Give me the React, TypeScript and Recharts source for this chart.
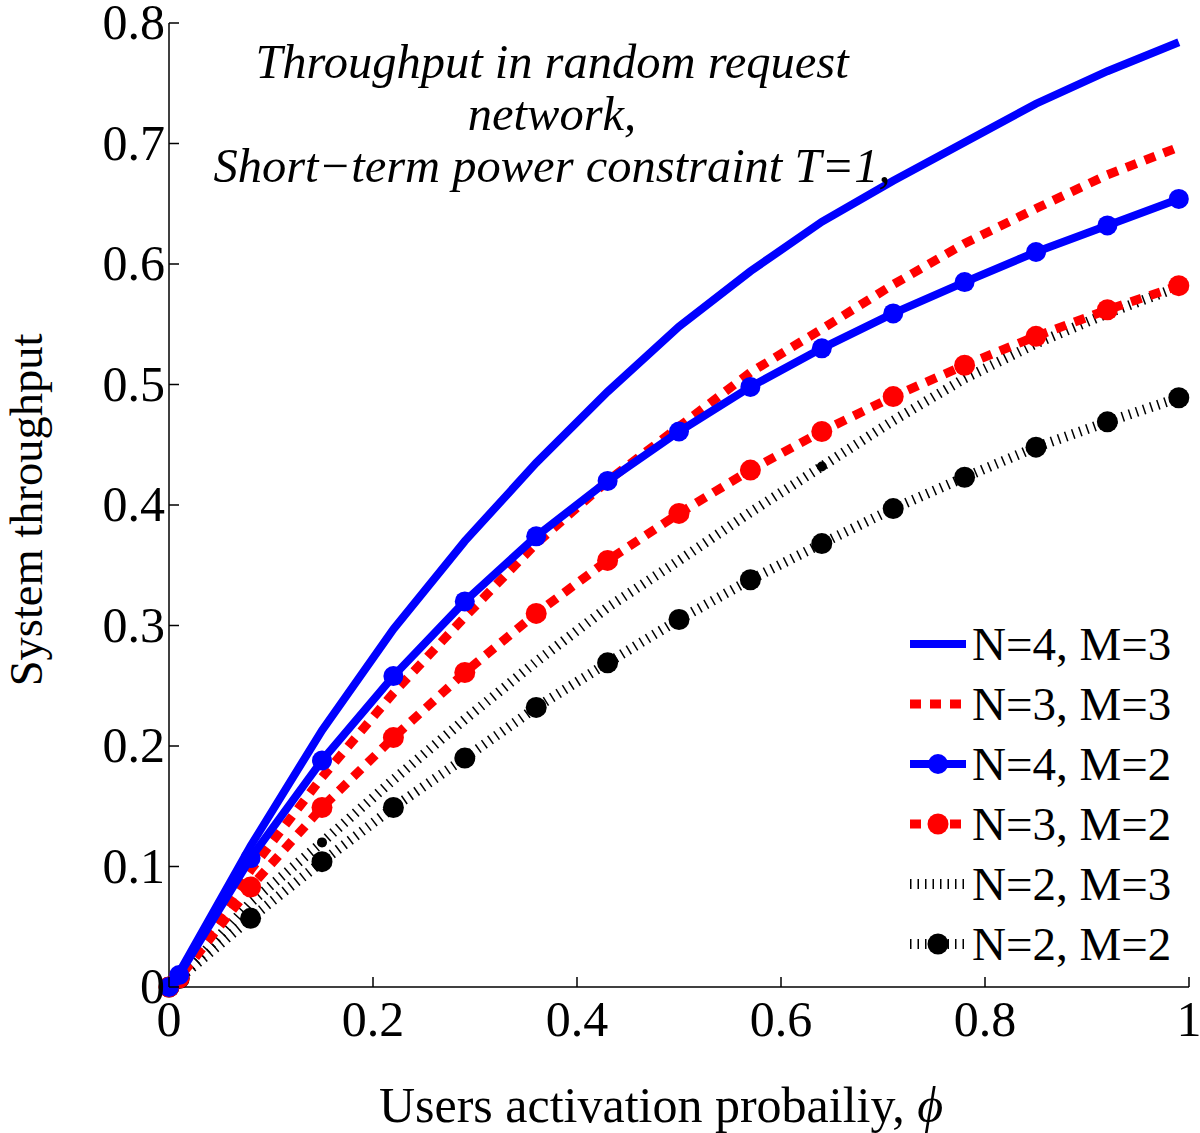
import { LineChart, Line, XAxis, YAxis, Legend } from "recharts";

// activation probability (x) and system throughput for each (N, M) setting
const phi = [0, 0.01, 0.08, 0.15, 0.22, 0.29, 0.36, 0.43, 0.5, 0.57, 0.64, 0.71, 0.78, 0.85, 0.92, 0.99];
const n4m3 = [0, 0.012, 0.117, 0.213, 0.297, 0.37, 0.435, 0.494, 0.548, 0.594, 0.635, 0.669, 0.701, 0.733, 0.76, 0.784];
const n3m3 = [0, 0.009, 0.097, 0.174, 0.244, 0.307, 0.368, 0.42, 0.465, 0.51, 0.546, 0.583, 0.617, 0.646, 0.674, 0.697];
const n4m2 = [0, 0.01, 0.107, 0.188, 0.258, 0.32, 0.374, 0.42, 0.461, 0.498, 0.53, 0.559, 0.585, 0.61, 0.632, 0.654];
const n3m2 = [0, 0.0075, 0.083, 0.149, 0.207, 0.261, 0.31, 0.354, 0.393, 0.429, 0.461, 0.49, 0.516, 0.54, 0.562, 0.582];
const n2m3 = [0, 0.007, 0.07, 0.12, 0.172, 0.222, 0.27, 0.315, 0.354, 0.394, 0.432, 0.47, 0.505, 0.534, 0.559, 0.581];
const n2m2 = [0, 0.007, 0.057, 0.104, 0.149, 0.19, 0.232, 0.269, 0.305, 0.338, 0.368, 0.397, 0.423, 0.448, 0.469, 0.489];
// points of the N=2, M=3 curve that carry a small stray marker
const n2m3Marked = [3, 10];

const xTicks = [0, 0.2, 0.4, 0.6, 0.8, 1];
const yTicks = [0, 0.1, 0.2, 0.3, 0.4, 0.5, 0.6, 0.7, 0.8];

const titleLines = ["Throughput in random request", "network,", "Short\u2212term power constraint T=1,"];

const data = phi.map((p, i) => ({
  phi: p,
  n4m3: n4m3[i],
  n3m3: n3m3[i],
  n4m2: n4m2[i],
  n3m2: n3m2[i],
  n2m3: n2m3[i],
  n2m2: n2m2[i],
}));

const FONT = '"Liberation Serif", "Times New Roman", serif';
const BLUE = "#0000ff";
const RED = "#ff0000";
const HATCH = "1.5 6";

type Series = {
  key: string;
  name: string;
  color: string;
  width: number;
  dash?: string;
  marker: number;
};

// legend order
const series: Series[] = [
  { key: "n4m3", name: "N=4, M=3", color: BLUE, width: 8, marker: 0 },
  { key: "n3m3", name: "N=3, M=3", color: RED, width: 9, dash: "11 9", marker: 0 },
  { key: "n4m2", name: "N=4, M=2", color: BLUE, width: 8, marker: 10 },
  { key: "n3m2", name: "N=3, M=2", color: RED, width: 9, dash: "11 9", marker: 10.5 },
  { key: "n2m3", name: "N=2, M=3", color: "#000", width: 10, dash: HATCH, marker: 0 },
  { key: "n2m2", name: "N=2, M=2", color: "#000", width: 10, dash: HATCH, marker: 10.5 },
];

// paint order: hatched curves at the back
const drawOrder = ["n2m3", "n2m2", "n3m2", "n3m3", "n4m2", "n4m3"];

function XTick({ x, y, payload }: any) {
  return (
    <g>
      <line x1={x} x2={x} y1={y} y2={y - 10} stroke="#000" strokeWidth={1.5} />
      <text x={x} y={y + 49} textAnchor="middle" fontFamily={FONT} fontSize={50} fill="#000">
        {String(payload.value)}
      </text>
    </g>
  );
}

function YTick({ x, y, payload }: any) {
  return (
    <g>
      <line x1={x} x2={x + 10} y1={y} y2={y} stroke="#000" strokeWidth={1.5} />
      <text x={x - 4} y={y + 16} textAnchor="end" fontFamily={FONT} fontSize={50} fill="#000">
        {String(payload.value)}
      </text>
    </g>
  );
}

function LegendBox() {
  return (
    <div style={{ fontFamily: FONT, fontSize: 47, color: "#000" }}>
      {series.map((s) => (
        <div key={s.key} style={{ display: "flex", alignItems: "center", height: 60 }}>
          <svg width={62} height={30} style={{ marginRight: 4 }}>
            <line x1={4} x2={60} y1={15} y2={15} stroke={s.color} strokeWidth={s.width}
              strokeDasharray={s.dash} />
            {s.marker > 0 && <circle cx={32} cy={15} r={s.marker} fill={s.color} />}
          </svg>
          <span style={{ lineHeight: "60px", whiteSpace: "nowrap" }}>{s.name}</span>
        </div>
      ))}
    </div>
  );
}

export default function App() {
  const byKey = Object.fromEntries(series.map((s) => [s.key, s]));
  return (
    <div style={{ position: "absolute", left: 0, top: 0, width: 1200, height: 1133, background: "#fff" }}>
      <LineChart width={1200} height={1133} data={data} margin={{ top: 23, right: 11, left: 0, bottom: 0 }}>
        <XAxis
          dataKey="phi"
          type="number"
          domain={[0, 1]}
          ticks={xTicks}
          height={146}
          tickSize={0}
          tickMargin={0}
          tickLine={false}
          tick={<XTick />}
          axisLine={{ stroke: "#000", strokeWidth: 1.5 }}
        />
        <YAxis
          type="number"
          domain={[0, 0.8]}
          ticks={yTicks}
          width={169}
          tickSize={0}
          tickMargin={0}
          tickLine={false}
          tick={<YTick />}
          axisLine={{ stroke: "#000", strokeWidth: 1.5 }}
        />
        <Legend
          layout="vertical"
          align="center"
          verticalAlign="middle"
          wrapperStyle={{ left: 906, top: 614, width: 294 }}
          content={() => <LegendBox />}
        />
        {drawOrder.map((k) => {
          const s = byKey[k];
          let dot: any = false;
          if (s.marker > 0) {
            dot = { r: s.marker, fill: s.color, stroke: s.color, strokeWidth: 0, strokeDasharray: "" };
          } else if (k === "n2m3") {
            dot = (p: any) =>
              n2m3Marked.includes(p.index) ? (
                <circle key={`m-${p.index}`} cx={p.cx} cy={p.cy} r={5} fill="#000" />
              ) : (
                <g key={`m-${p.index}`} />
              );
          }
          return (
            <Line
              key={k}
              type="linear"
              dataKey={k}
              name={s.name}
              stroke={s.color}
              strokeWidth={s.width}
              strokeDasharray={s.dash}
              dot={dot}
              activeDot={false}
              isAnimationActive={false}
            />
          );
        })}
      </LineChart>
      <svg
        width={1200}
        height={1133}
        style={{ position: "absolute", left: 0, top: 0, pointerEvents: "none" }}
        fontFamily={FONT}
      >
        {titleLines.map((t, i) => (
          <text key={t} x={552} y={78 + i * 52} textAnchor="middle" fontSize={48.5} fontStyle="italic" fill="#000">
            {t}
          </text>
        ))}
        <text x={661} y={1122} textAnchor="middle" fontSize={50} fill="#000">
          Users activation probailiy, <tspan fontStyle="italic">{"\u03d5"}</tspan>
        </text>
        <text x={42} y={510} transform="rotate(-90 42 510)" textAnchor="middle" fontSize={46.5} fill="#000">
          System throughput
        </text>
      </svg>
    </div>
  );
}
